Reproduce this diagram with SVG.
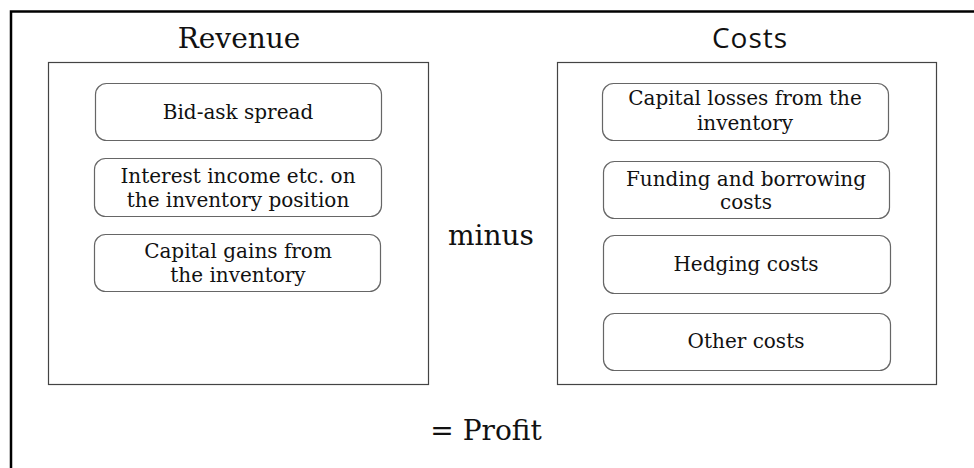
<svg xmlns="http://www.w3.org/2000/svg" width="974" height="468" viewBox="0 0 974 468">
<style>
.frame{fill:none;stroke:#000;stroke-width:2.5}
.panel{fill:#fff;stroke:#444;stroke-width:1.2}
.node{fill:#fff;stroke:#666;stroke-width:1.2}
.t{font-family:"DejaVu Serif","Liberation Serif",serif;font-size:20px;fill:#111;text-anchor:middle}
.big{font-family:"DejaVu Serif","Liberation Serif",serif;font-size:28px;fill:#111;text-anchor:middle}
.sans{font-family:"Open Sans","DejaVu Sans",sans-serif;font-size:28px;letter-spacing:1px;fill:#111;text-anchor:middle}
</style>
<rect width="974" height="468" fill="#fff"/>
<path class="frame" d="M11 470 V11.5 H976"/>
<g id="revenue">
<rect class="panel" x="48.5" y="62.5" width="380" height="322"/>
<text class="big" x="239" y="48">Revenue</text>
</g>
<g id="costs">
<rect class="panel" x="557.5" y="62.5" width="379" height="322"/>
<text class="sans" x="750" y="48">Costs</text>
</g>
<g id="bidask"><rect class="node" x="95.5" y="83.5" width="286" height="57" rx="11"/><text class="t" x="238" y="119">Bid-ask spread</text></g>
<g id="interest"><rect class="node" x="94.5" y="158.5" width="287" height="58" rx="11"/><text class="t" x="238" y="183">Interest income etc. on</text><text class="t" x="238" y="207">the inventory position</text></g>
<g id="gains"><rect class="node" x="94.5" y="234.5" width="286" height="57" rx="11"/><text class="t" x="238" y="258">Capital gains from</text><text class="t" x="238" y="282">the inventory</text></g>
<g id="losses"><rect class="node" x="602.5" y="83.5" width="286" height="57" rx="11"/><text class="t" x="745" y="105">Capital losses from the</text><text class="t" x="745" y="130">inventory</text></g>
<g id="funding"><rect class="node" x="603.5" y="161.5" width="286" height="57" rx="11"/><text class="t" x="746" y="186">Funding and borrowing</text><text class="t" x="746" y="209">costs</text></g>
<g id="hedging"><rect class="node" x="603.5" y="235.5" width="287" height="58" rx="11"/><text class="t" x="746" y="271">Hedging costs</text></g>
<g id="other"><rect class="node" x="603.5" y="313.5" width="287" height="57" rx="11"/><text class="t" x="746" y="348">Other costs</text></g>
<g id="minus"><text class="big" x="491" y="245" font-size="30">minus</text></g>
<g id="profit"><text class="big" x="486" y="440">= Profit</text></g>
<g id="connectors"></g>
</svg>
